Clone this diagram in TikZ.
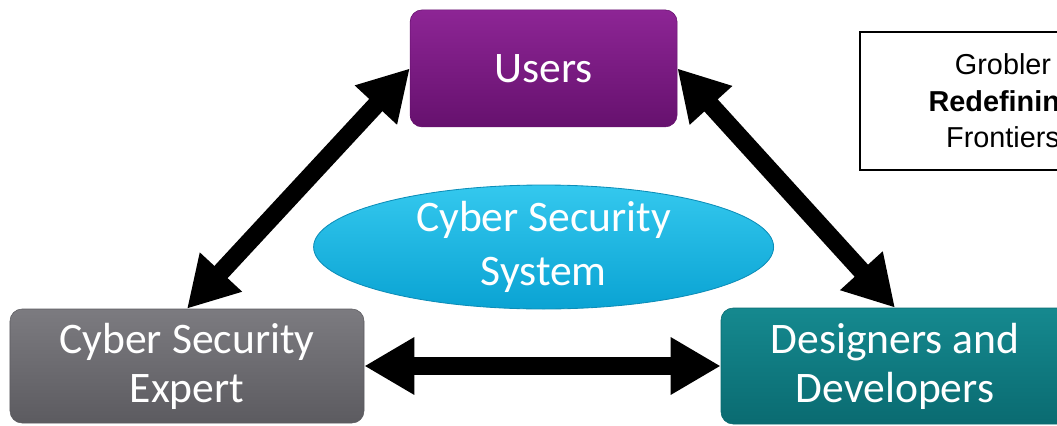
\documentclass[tikz,border=0pt]{standalone}
\usepackage{fontspec}
\setsansfont{Carlito}
\newfontfamily\reffont{Liberation Sans}
\usepackage{tikz}
\usetikzlibrary{arrows.meta,positioning,shapes.geometric}

\definecolor{usersTop}{HTML}{8D2595}
\definecolor{usersBot}{HTML}{66116E}
\definecolor{expertTop}{HTML}{7C7B80}
\definecolor{expertBot}{HTML}{5C5B60}
\definecolor{devTop}{HTML}{15898F}
\definecolor{devBot}{HTML}{0A6B71}
\definecolor{sysTop}{HTML}{34C8EE}
\definecolor{sysBot}{HTML}{0AA3D3}
\definecolor{sysEdge}{HTML}{0C8DB8}

\begin{document}
\begin{tikzpicture}[
    auto,
    node distance=7.44cm,
    >={Triangle[length=1.25cm,width=1.35cm]},
    font=\sffamily,
    group/.style={
		rectangle,
		rounded corners=0.3cm,
		text=white,
		align=center,
		inner sep=0pt,
		font=\sffamily\fontsize{31}{35}\selectfont
	},
	system/.style={
		ellipse,
		text=white,
		align=center,
		inner sep=-0.3cm,
		minimum width=11.5cm,
		minimum height=3.1cm,
		top color=sysTop,
		bottom color=sysBot,
		draw=sysEdge,
		line width=0.6pt,
		font=\sffamily\fontsize{31}{38}\selectfont
	},
	link/.style={
		line width=0.45cm
	},
	source/.style={
		rectangle,
		draw=black,
		line width=1.4pt,
		align=center,
		minimum width=7.15cm,
		minimum height=3.45cm,
		font=\reffont\fontsize{20.5}{26}\selectfont
	}
  ]
  \clip (0,0) rectangle (26.425,-10.625);

    % We start by placing the blocks
  \node [group, minimum width=6.675cm, minimum height=2.925cm,
         top color=usersTop, bottom color=usersBot, draw=usersBot]
        at (13.59,-1.71) (users) {Users};

  \node [group, below of=users, xshift=-8.915cm,
         minimum width=8.85cm, minimum height=2.85cm,
         top color=expertTop, bottom color=expertBot, draw=expertBot]
        (expert) {Cyber Security\\Expert};

  \node [group, below of=users, xshift=8.785cm,
         minimum width=8.7cm, minimum height=2.9cm,
         top color=devTop, bottom color=devBot, draw=devBot]
        (developers) {Designers and\\Developers};

  \node [system, below of=users, node distance=4.465cm]
        (system) {Cyber Security\\System};

  \node [source] at (25.075,-2.525) (grobler)
 {%
  Grobler\\
  \textbf{Redefining}\\
  Frontiers
 };

 \draw [link,<->] (users.west) -- (expert.north);
 \draw [link,<->] (users.east) -- (developers.north);
 \draw [link,<->] (expert.east) -- (developers.west);

\end{tikzpicture}
\end{document}
